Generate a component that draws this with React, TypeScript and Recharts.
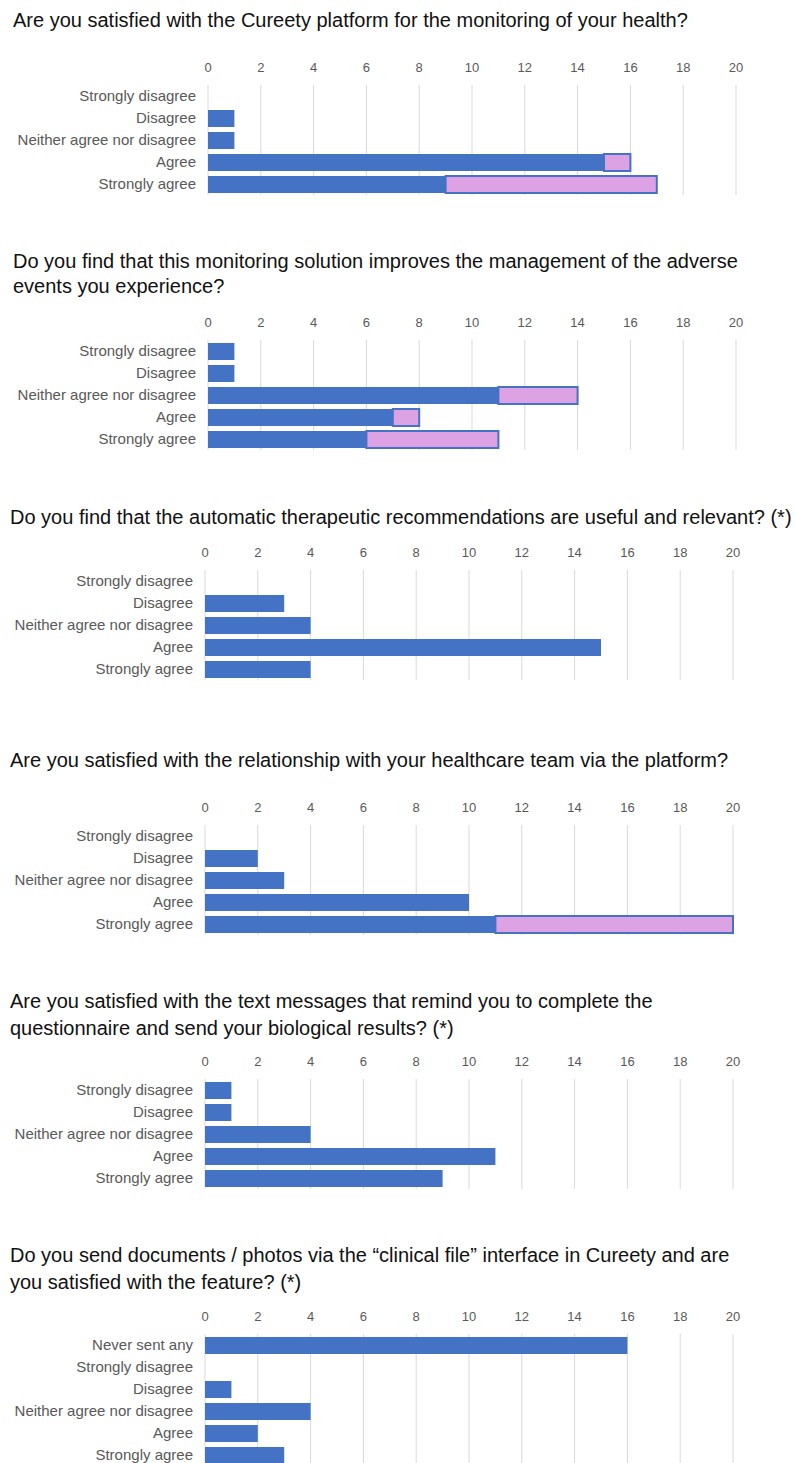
import React from 'react';
import { BarChart, Bar, XAxis, YAxis, CartesianGrid } from 'recharts';

const LIKERT = ['Strongly disagree', 'Disagree', 'Neither agree nor disagree', 'Agree', 'Strongly agree'];
const DOC_CATS = ['Never sent any', ...LIKERT];
const TICKS = [0, 2, 4, 6, 8, 10, 12, 14, 16, 18, 20];

// blue = base count, extra = pink part stacked on top
const Q1_BASE = [0, 1, 1, 15, 9];
const Q1_EXTRA = [0, 0, 0, 1, 8];
const Q2_BASE = [1, 1, 11, 7, 6];
const Q2_EXTRA = [0, 0, 3, 1, 5];
const Q3_BASE = [0, 3, 4, 15, 4];
const Q4_BASE = [0, 2, 3, 10, 11];
const Q4_EXTRA = [0, 0, 0, 0, 9];
const Q5_BASE = [1, 1, 4, 11, 9];
const Q6_BASE = [16, 0, 1, 4, 2, 3];

const BLUE = '#4472C4';
const PINK = '#DCA2E4';
const FONT = '"Liberation Sans", Arial, sans-serif';

const rows = (cats: string[], base: number[], extra?: number[]) =>
  cats.map((name, i) => ({ name, base: base[i], extra: extra ? extra[i] : 0 }));

type PanelProps = {
  title: string[];
  titleTop: number;
  titleLeft: number;
  lineH: number;
  plotTop: number;
  plotLeft: number;
  cats: string[];
  base: number[];
  extra?: number[];
};

const Panel: React.FC<PanelProps> = ({ title, titleTop, titleLeft, lineH, plotTop, plotLeft, cats, base, extra }) => {
  const data = rows(cats, base, extra);
  const axisH = 40;
  const plotH = cats.length * 22;
  return (
    <>
      <div
        style={{
          position: 'absolute',
          top: titleTop,
          left: titleLeft,
          fontFamily: FONT,
          fontSize: 20,
          lineHeight: `${lineH}px`,
          color: '#111',
          whiteSpace: 'nowrap',
        }}
      >
        {title.map((t, i) => (
          <div key={i}>{t}</div>
        ))}
      </div>
      <div style={{ position: 'absolute', top: plotTop - axisH, left: 0 }}>
        <BarChart
          width={795}
          height={axisH + plotH}
          data={data}
          layout="vertical"
          barSize={17}
          margin={{ top: 0, right: 795 - plotLeft - 528, bottom: 0, left: 0 }}
        >
          <CartesianGrid horizontal={false} stroke="#D9D9D9" />
          <XAxis
            type="number"
            orientation="top"
            domain={[0, 20]}
            ticks={TICKS}
            height={axisH}
            axisLine={false}
            tickLine={false}
            tickSize={0}
            tickMargin={13}
            tick={{ fontSize: 13, fill: '#595959', fontFamily: FONT }}
          />
          <YAxis
            type="category"
            dataKey="name"
            width={plotLeft}
            axisLine={false}
            tickLine={false}
            tickSize={0}
            tickMargin={12}
            interval={0}
            tick={{ fontSize: 15, fill: '#595959', fontFamily: FONT }}
          />
          <Bar dataKey="base" stackId="a" fill={BLUE} isAnimationActive={false} />
          {extra && (
            <Bar dataKey="extra" stackId="a" fill={PINK} stroke={BLUE} strokeWidth={2} isAnimationActive={false} />
          )}
        </BarChart>
      </div>
    </>
  );
};

export default function App() {
  return (
    <div style={{ position: 'absolute', left: 0, top: 0, width: 795, height: 1463, overflow: 'hidden', background: '#fff' }}>
      <Panel
        title={['Are you satisfied with the Cureety platform for the monitoring of your health?']}
        titleTop={7}
        titleLeft={13}
        lineH={26}
        plotTop={85}
        plotLeft={208}
        cats={LIKERT}
        base={Q1_BASE}
        extra={Q1_EXTRA}
      />
      <Panel
        title={[
          'Do you find that this monitoring solution improves the management of the adverse',
          'events you experience?',
        ]}
        titleTop={249}
        titleLeft={13}
        lineH={25}
        plotTop={340}
        plotLeft={208}
        cats={LIKERT}
        base={Q2_BASE}
        extra={Q2_EXTRA}
      />
      <Panel
        title={['Do you find that the automatic therapeutic recommendations are useful and relevant? (*)']}
        titleTop={504}
        titleLeft={10}
        lineH={26}
        plotTop={570}
        plotLeft={205}
        cats={LIKERT}
        base={Q3_BASE}
      />
      <Panel
        title={['Are you satisfied with the relationship with your healthcare team via the platform?']}
        titleTop={747}
        titleLeft={10}
        lineH={26}
        plotTop={825}
        plotLeft={205}
        cats={LIKERT}
        base={Q4_BASE}
        extra={Q4_EXTRA}
      />
      <Panel
        title={[
          'Are you satisfied with the text messages that remind you to complete the',
          'questionnaire and send your biological results? (*)',
        ]}
        titleTop={988}
        titleLeft={10}
        lineH={27}
        plotTop={1079}
        plotLeft={205}
        cats={LIKERT}
        base={Q5_BASE}
      />
      <Panel
        title={[
          'Do you send documents / photos via the \u201cclinical file\u201d interface in Cureety and are',
          'you satisfied with the feature? (*)',
        ]}
        titleTop={1242}
        titleLeft={10}
        lineH={27}
        plotTop={1334}
        plotLeft={205}
        cats={DOC_CATS}
        base={Q6_BASE}
      />
    </div>
  );
}
